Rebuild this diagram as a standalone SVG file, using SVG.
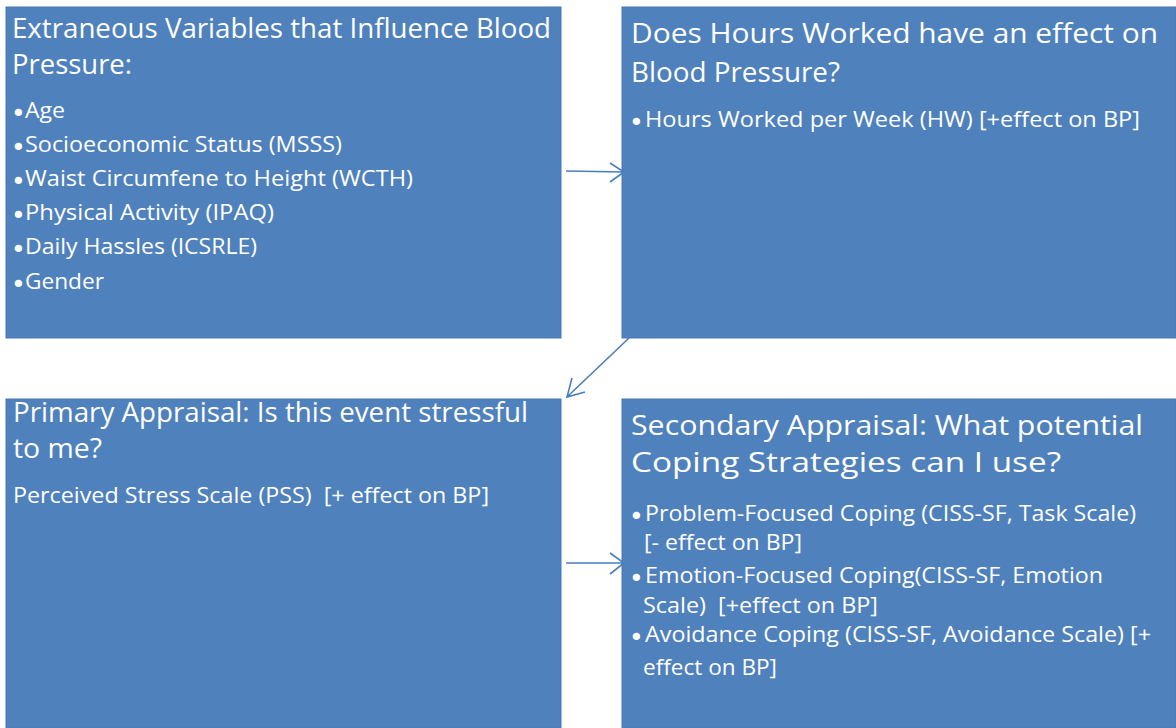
<svg xmlns="http://www.w3.org/2000/svg" width="1176" height="728" viewBox="0 0 1176 728">
<style>
.box{fill:#4F81BD;stroke:#4A7AB5;stroke-width:1}
.t{font-family:"Open Sans","Noto Sans",sans-serif;fill:#FFFFFF;white-space:pre}
.h{font-size:28px}
.b{font-size:21.5px}
.d{font-family:"DejaVu Sans","Liberation Sans",sans-serif;font-size:25px;fill:#FFFFFF}
.c{stroke:#4A7EBB;stroke-width:1.6;fill:none}
</style>
<rect width="1176" height="728" fill="#FFFFFF"/>
<g id="node-extraneous">
<rect class="box" x="6" y="7" width="555" height="331"/>
<text class="t h" x="12" y="38" textLength="539" lengthAdjust="spacingAndGlyphs">Extraneous Variables that Influence Blood</text>
<text class="t h" x="12" y="74" textLength="120" lengthAdjust="spacingAndGlyphs">Pressure:</text>
<text class="d" x="11" y="122">•</text>
<text class="t b" x="25" y="118" textLength="40" lengthAdjust="spacingAndGlyphs">Age</text>
<text class="d" x="11" y="156">•</text>
<text class="t b" x="25" y="152" textLength="317" lengthAdjust="spacingAndGlyphs">Socioeconomic Status (MSSS)</text>
<text class="d" x="11" y="190">•</text>
<text class="t b" x="25" y="186" textLength="388" lengthAdjust="spacingAndGlyphs">Waist Circumfene to Height (WCTH)</text>
<text class="d" x="11" y="224">•</text>
<text class="t b" x="25" y="220" textLength="249" lengthAdjust="spacingAndGlyphs">Physical Activity (IPAQ)</text>
<text class="d" x="11" y="258">•</text>
<text class="t b" x="25" y="254" textLength="232" lengthAdjust="spacingAndGlyphs">Daily Hassles (ICSRLE)</text>
<text class="d" x="11" y="293">•</text>
<text class="t b" x="25" y="289" textLength="79" lengthAdjust="spacingAndGlyphs">Gender</text>
</g>
<g id="node-hours">
<rect class="box" x="622" y="7" width="554" height="331"/>
<text class="t h" x="631" y="43" textLength="527" lengthAdjust="spacingAndGlyphs">Does Hours Worked have an effect on</text>
<text class="t h" x="631" y="82" textLength="209" lengthAdjust="spacingAndGlyphs">Blood Pressure?</text>
<text class="d" x="629" y="131">•</text>
<text class="t b" x="645" y="127" textLength="495" lengthAdjust="spacingAndGlyphs">Hours Worked per Week (HW) [+effect on BP]</text>
</g>
<g id="node-primary">
<rect class="box" x="6" y="399" width="555" height="329"/>
<text class="t h" x="13" y="422" textLength="515" lengthAdjust="spacingAndGlyphs">Primary Appraisal: Is this event stressful</text>
<text class="t h" x="13" y="458" textLength="89" lengthAdjust="spacingAndGlyphs">to me?</text>
<text class="t b" x="13" y="503" textLength="476" lengthAdjust="spacingAndGlyphs" xml:space="preserve">Perceived Stress Scale (PSS)  [+ effect on BP]</text>
</g>
<g id="node-secondary">
<rect class="box" x="622" y="399" width="554" height="329"/>
<text class="t h" x="631" y="435" textLength="512" lengthAdjust="spacingAndGlyphs">Secondary Appraisal: What potential</text>
<text class="t h" x="631" y="472" textLength="430" lengthAdjust="spacingAndGlyphs">Coping Strategies can I use?</text>
<text class="d" x="629" y="525">•</text>
<text class="t b" x="645" y="521" textLength="491" lengthAdjust="spacingAndGlyphs">Problem-Focused Coping (CISS-SF, Task Scale)</text>
<text class="t b" x="644" y="550" textLength="158" lengthAdjust="spacingAndGlyphs">[- effect on BP]</text>
<text class="d" x="629" y="587">•</text>
<text class="t b" x="645" y="583" textLength="458" lengthAdjust="spacingAndGlyphs">Emotion-Focused Coping(CISS-SF, Emotion</text>
<text class="t b" x="643" y="613" textLength="235" lengthAdjust="spacingAndGlyphs" xml:space="preserve">Scale)  [+effect on BP]</text>
<text class="d" x="629" y="646">•</text>
<text class="t b" x="645" y="642" textLength="506" lengthAdjust="spacingAndGlyphs">Avoidance Coping (CISS-SF, Avoidance Scale) [+</text>
<text class="t b" x="643" y="675" textLength="134" lengthAdjust="spacingAndGlyphs">effect on BP]</text>
</g>
<g id="connectors">
<path class="c" d="M566 171 L624 172 M610 163 L624 172 L610 182"/>
<path class="c" d="M629 338 L567 397 M572 378 L567 397 L585 392"/>
<path class="c" d="M566 563 L624 563 M610 553 L624 563 L610 574"/>
</g>
</svg>
